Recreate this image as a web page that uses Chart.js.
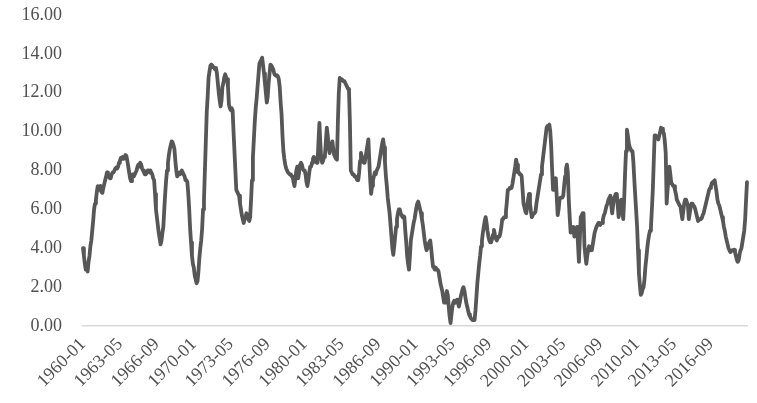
<!DOCTYPE html>
<html>
<head>
<meta charset="utf-8">
<script src="https://cdn.jsdelivr.net/npm/chart.js@4/dist/chart.umd.min.js"></script>
<style>
  html, body { margin: 0; padding: 0; background: #ffffff; }
  #wrap { width: 757px; height: 403px; }
</style>
</head>
<body>
<div id="wrap"><canvas id="c" width="757" height="403"></canvas></div>
<script>
// Category range: monthly, 1960-01 .. 2019-12
const startYear = 1960;
const endYear = 2019;

// Tick labels shown on the x axis
const tickLabels = ['1960-01','1963-05','1966-09','1970-01','1973-05','1976-09','1980-01','1983-05','1986-09',
  '1990-01','1993-05','1996-09','2000-01','2003-05','2006-09','2010-01','2013-05','2016-09'];

// Y-axis ticks
const yTicks = [0, 2, 4, 6, 8, 10, 12, 14, 16];

// Series values (monthly), one row per year
const values = [
  4.0, 3.6, 3.2, 2.9, 3.0, 2.8, 3.3, 3.6, 4.1, 4.4, 4.9, 5.4,        // 1960
  6.0, 6.3, 6.5, 6.9, 7.2, 7.0, 7.1, 7.2, 6.9, 6.85, 7.1, 7.3,       // 1961
  7.5, 7.7, 7.9, 7.8, 7.7, 7.6, 7.6, 7.8, 7.9, 7.9, 8.0, 8.1,        // 1962
  8.15, 8.1, 8.2, 8.4, 8.5, 8.65, 8.6, 8.7, 8.6, 8.7, 8.8, 8.75,     // 1963
  8.5, 8.2, 7.9, 7.6, 7.45, 7.6, 7.8, 7.7, 7.8, 7.9, 8.0, 8.2,       // 1964
  8.3, 8.2, 8.4, 8.3, 8.1, 8.0, 7.9, 7.8, 7.8, 7.9, 8.0, 8.0,        // 1965
  7.9, 8.0, 7.9, 7.8, 7.6, 7.5, 6.8, 6.0, 5.6, 5.2, 4.8, 4.5,        // 1966
  4.2, 4.4, 4.8, 5.1, 6.0, 6.8, 7.5, 8.0, 8.4, 8.8, 9.1, 9.3,        // 1967
  9.5, 9.45, 9.3, 9.1, 8.5, 8.0, 7.7, 7.8, 7.9, 7.8, 7.9, 8.0,       // 1968
  7.9, 7.8, 7.7, 7.5, 7.5, 7.4, 6.8, 6.0, 5.0, 4.3, 3.6, 3.2,        // 1969
  3.0, 2.6, 2.4, 2.2, 2.3, 2.8, 3.5, 4.0, 4.4, 5.0, 6.0, 6.5,        // 1970
  8.0, 9.5, 11.0, 11.8, 12.8, 13.1, 13.4, 13.45, 13.4, 13.3, 13.3, 13.2, // 1971
  13.28, 13.0, 12.5, 12.0, 11.6, 11.3, 11.6, 12.3, 12.5, 12.8, 12.95, 12.8, // 1972
  12.7, 12.3, 11.4, 11.2, 11.1, 11.2, 11.1, 10.0, 9.0, 8.0, 7.0, 6.9, // 1973
  6.8, 6.7, 6.3, 6.0, 5.7, 5.5, 5.3, 5.5, 5.6, 5.8, 5.6, 5.5,        // 1974
  5.4, 5.6, 6.5, 7.5, 8.7, 9.6, 10.5, 11.2, 11.7, 12.3, 12.9, 13.5,  // 1975
  13.6, 13.7, 13.8, 13.4, 13.0, 12.5, 12.0, 11.5, 11.8, 12.5, 13.0, 13.45, // 1976
  13.4, 13.3, 13.2, 13.0, 12.9, 12.9, 12.85, 12.85, 12.7, 12.3, 11.5, 10.9, // 1977
  9.8, 9.0, 8.6, 8.3, 8.1, 8.0, 7.9, 7.9, 7.8, 7.8, 7.7, 7.7,        // 1978
  7.4, 7.2, 7.6, 8.0, 8.2, 7.6, 7.9, 8.3, 8.4, 8.3, 8.1, 8.0,        // 1979
  8.0, 7.8, 7.4, 7.2, 7.5, 7.9, 8.2, 8.2, 8.4, 8.6, 8.7, 8.6,        // 1980
  8.5, 8.4, 8.4, 9.5, 10.45, 9.4, 8.6, 8.4, 8.5, 8.7, 8.8, 9.5,      // 1981
  10.2, 9.8, 9.2, 8.9, 9.1, 9.3, 9.5, 9.1, 8.8, 8.7, 8.6, 8.56,      // 1982
  10.5, 12.0, 12.77, 12.7, 12.7, 12.65, 12.6, 12.6, 12.5, 12.4, 12.3, 12.2, // 1983
  12.16, 10.5, 8.0, 7.9, 7.8, 7.8, 7.7, 7.7, 7.6, 7.5, 7.5, 7.9,     // 1984
  8.5, 8.9, 8.7, 8.5, 8.4, 8.4, 8.7, 9.0, 9.3, 9.6, 8.5, 7.5,        // 1985
  6.8, 7.2, 7.5, 7.7, 7.9, 7.8, 8.0, 8.1, 8.2, 8.5, 8.8, 9.1,        // 1986
  9.4, 9.6, 9.2, 8.4, 7.7, 7.2, 6.6, 6.2, 5.8, 5.2, 4.6, 4.0,        // 1987
  3.66, 4.1, 4.6, 5.1, 5.5, 5.8, 6.0, 6.0, 5.8, 5.7, 5.6, 5.65,      // 1988
  5.6, 4.9, 4.3, 3.6, 3.2, 2.9, 3.6, 4.4, 4.7, 5.0, 5.3, 5.5,        // 1989
  5.8, 6.1, 6.3, 6.4, 6.2, 6.0, 5.8, 5.5, 5.2, 4.8, 4.4, 4.1,        // 1990
  3.9, 4.0, 4.2, 4.3, 4.4, 4.0, 3.5, 3.05, 3.0, 2.9, 3.0, 2.9,       // 1991
  2.9, 2.8, 2.5, 2.2, 2.0, 1.8, 1.5, 1.2, 1.2, 1.5, 1.8, 1.6,        // 1992
  1.0, 0.5, 0.15, 0.6, 1.0, 1.2, 1.3, 1.2, 1.3, 1.35, 1.2, 1.0,      // 1993
  1.2, 1.5, 1.7, 1.9, 2.0, 1.8, 1.5, 1.2, 1.0, 0.8, 0.6, 0.5,        // 1994
  0.4, 0.35, 0.3, 0.3, 0.3, 0.8, 1.5, 2.2, 2.7, 3.2, 3.6, 4.1,       // 1995
  4.4, 4.8, 5.1, 5.4, 5.6, 5.3, 4.9, 4.6, 4.4, 4.3, 4.3, 4.5,        // 1996
  4.7, 4.95, 4.7, 4.5, 4.4, 4.5, 4.6, 4.6, 4.8, 5.1, 5.5, 5.5,       // 1997
  5.6, 5.6, 5.9, 6.4, 7.0, 7.0, 7.1, 7.1, 7.1, 7.3, 7.6, 7.9,        // 1998
  8.2, 8.56, 8.3, 7.9, 7.9, 7.8, 7.8, 7.7, 7.0, 6.3, 6.1, 5.9,       // 1999
  5.8, 6.2, 6.5, 6.8, 6.3, 5.9, 5.6, 5.7, 5.8, 5.8, 5.9, 6.3,        // 2000
  6.6, 6.9, 7.2, 7.5, 7.8, 8.2, 8.6, 9.0, 9.4, 9.8, 10.2, 10.3,      // 2001
  10.3, 10.36, 10.0, 9.2, 8.0, 7.0, 7.3, 7.4, 7.6, 6.6, 5.7, 6.0,    // 2002
  6.5, 6.6, 6.6, 6.6, 6.7, 7.2, 7.7, 8.1, 8.3, 7.9, 6.5, 5.6,        // 2003
  4.8, 4.9, 5.0, 5.1, 4.6, 4.8, 5.0, 5.1, 4.2, 3.3, 4.5, 5.6,        // 2004
  5.7, 5.8, 5.8, 4.1, 3.6, 3.2, 3.6, 3.9, 4.1, 4.0, 3.9, 3.9,        // 2005
  4.2, 4.5, 4.8, 4.95, 5.1, 5.2, 5.3, 5.3, 5.2, 5.3, 5.3, 5.5,       // 2006
  5.7, 5.8, 6.0, 6.2, 6.3, 6.5, 6.6, 6.7, 6.2, 5.8, 6.2, 6.6,        // 2007
  6.7, 6.8, 6.8, 6.2, 5.6, 6.0, 6.4, 6.5, 5.9, 5.5, 6.5, 7.9,        // 2008
  9.0, 10.1, 9.8, 9.4, 9.2, 9.1, 9.0, 9.0, 8.4, 7.5, 6.7, 5.9,       // 2009
  5.1, 3.9, 2.7, 2.1, 1.6, 1.7, 1.9, 2.0, 2.4, 3.05, 3.5, 4.0,       // 2010
  4.4, 4.7, 4.9, 5.1, 6.0, 7.0, 8.4, 9.8, 9.8, 9.7, 9.65, 9.6,       // 2011
  9.8, 10.0, 10.2, 10.15, 10.0, 9.9, 9.5, 8.9, 6.3, 7.0, 7.6, 8.2,   // 2012
  7.8, 7.35, 7.3, 7.2, 7.2, 7.0, 6.8, 6.5, 6.4, 6.3, 6.2, 6.15,      // 2013
  5.8, 5.5, 5.9, 6.3, 6.5, 6.5, 6.5, 6.2, 5.5, 5.8, 6.1, 6.3,        // 2014
  6.3, 6.2, 6.15, 6.0, 5.8, 5.6, 5.4, 5.4, 5.5, 5.5, 5.55, 5.7,      // 2015
  5.8, 6.0, 6.2, 6.4, 6.6, 6.8, 7.0, 7.1, 7.2, 7.35, 7.4, 7.45,      // 2016
  7.5, 7.2, 6.9, 6.5, 6.3, 6.2, 6.0, 5.8, 5.6, 5.4, 5.1, 4.9,        // 2017
  4.6, 4.4, 4.2, 4.0, 3.9, 3.8, 3.85, 3.9, 3.9, 3.92, 3.8, 3.6,      // 2018
  3.4, 3.3, 3.4, 3.7, 3.9, 4.0, 4.3, 4.6, 4.9, 5.5, 6.5, 7.4         // 2019
];

const categories = [];
for (let y = startYear; y <= endYear; y++) {
  for (let m = 1; m <= 12; m++) categories.push(y + '-' + (m < 10 ? '0' + m : '' + m));
}

const font = { family: "'Liberation Serif', 'Times New Roman', serif", size: 18 };

new Chart(document.getElementById('c'), {
  type: 'line',
  data: {
    labels: categories,
    datasets: [{
      data: values,
      borderColor: '#575757',
      borderWidth: 3.8,
      pointRadius: 0,
      tension: 0,
      fill: false,
      borderJoinStyle: 'round',
      borderCapStyle: 'round'
    }]
  },
  options: {
    responsive: false,
    animation: false,
    events: [],
    layout: { padding: { top: 0, right: 10, left: 0, bottom: 0 } },
    plugins: { legend: { display: false }, tooltip: { enabled: false } },
    scales: {
      x: {
        type: 'category',
        offset: false,
        grid: { display: false, drawTicks: false },
        border: { display: true, color: '#d9d9d9', width: 1.5 },
        ticks: {
          autoSkip: false,
          minRotation: 45,
          maxRotation: 45,
          padding: 8,
          color: '#505050',
          font: font,
          callback: function (v, i) {
            const lab = categories[i];
            return tickLabels.indexOf(lab) >= 0 ? lab : null;
          }
        },
        afterFit: function (s) { s.height = 77; }
      },
      y: {
        min: 0,
        max: 16,
        grid: { display: false, drawTicks: false },
        border: { display: false },
        afterBuildTicks: function (s) { s.ticks = yTicks.map(v => ({ value: v })); },
        ticks: {
          padding: 21,
          color: '#505050',
          font: font,
          callback: function (v) { return Number(v).toFixed(2); }
        },
        afterFit: function (s) { s.width = 83; s.paddingTop = 15; s.paddingBottom = 11; }
      }
    }
  }
});
</script>
</body>
</html>
